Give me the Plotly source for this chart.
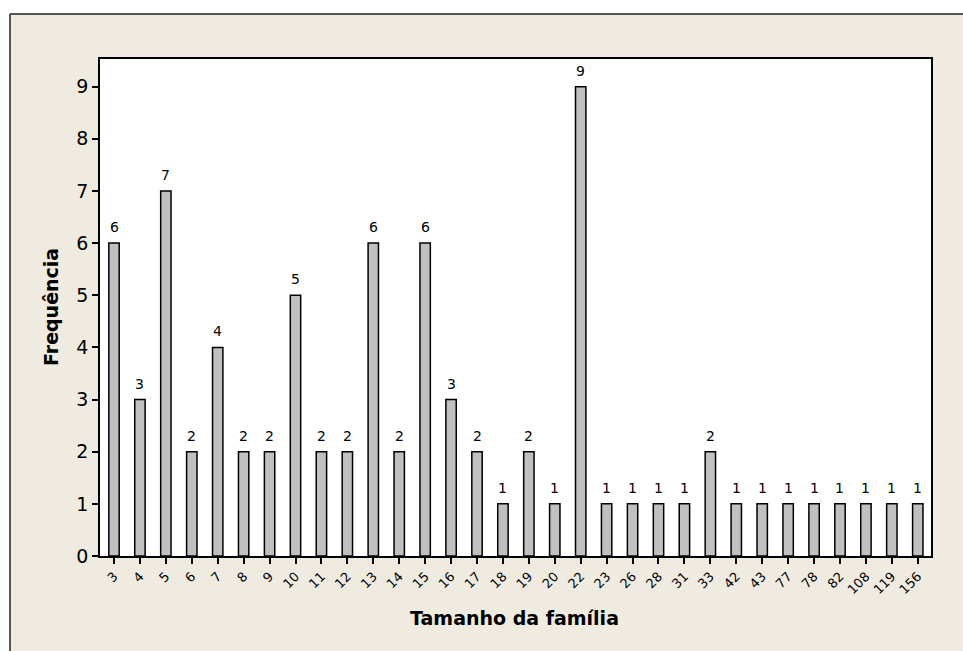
import plotly.graph_objects as go

categories = ["3", "4", "5", "6", "7", "8", "9", "10", "11", "12", "13", "14", "15", "16",
              "17", "18", "19", "20", "22", "23", "26", "28", "31", "33", "42", "43", "77",
              "78", "82", "108", "119", "156"]
frequencies = [6, 3, 7, 2, 4, 2, 2, 5, 2, 2, 6, 2, 6, 3, 2, 1, 2, 1, 9, 1, 1, 1, 1, 2,
               1, 1, 1, 1, 1, 1, 1, 1]
y_ticks = [0, 1, 2, 3, 4, 5, 6, 7, 8, 9]

FONT = "DejaVu Sans"
W, H = 963, 651
# plot area in screenshot pixels: x 100..931, y 59..556
L, R, T, B = 100, 963 - 931, 59, 651 - 556
pw, ph = W - L - R, H - T - B

def px(x):
    return (x - L) / pw

def py(y):
    return 1 - (y - T) / ph

xs = list(range(len(categories)))

fig = go.Figure()
fig.add_trace(go.Bar(
    x=xs,
    y=frequencies,
    width=0.4,
    marker=dict(color="#C0C0C0", line=dict(color="black", width=1.5)),
    hoverinfo="x+y",
))

annotations = [
    dict(x=xi, y=v, text=str(v), xref="x", yref="y", showarrow=False,
         yanchor="bottom", xanchor="center", yshift=6,
         font=dict(family=FONT, size=14, color="black"))
    for xi, v in zip(xs, frequencies)
]
annotations += [
    dict(text="<b>Tamanho da família</b>", xref="paper", yref="paper",
         x=px(514), y=py(618), showarrow=False,
         font=dict(family=FONT, size=19, color="black"),
         xanchor="center", yanchor="middle"),
    dict(text="<b>Frequência</b>", xref="paper", yref="paper",
         x=px(51), y=py(307), showarrow=False, textangle=-90,
         font=dict(family=FONT, size=19, color="black"),
         xanchor="center", yanchor="middle"),
]

fig.update_layout(
    width=W, height=H,
    margin=dict(l=L, r=R, t=T, b=B),
    paper_bgcolor="#EFEBE1",
    plot_bgcolor="white",
    showlegend=False,
    font=dict(family=FONT, color="black"),
    shapes=[
        dict(type="rect", xref="paper", yref="paper", layer="below",
             x0=px(-20), x1=px(10), y0=py(700), y1=py(-20),
             fillcolor="white", line=dict(width=0)),
        dict(type="rect", xref="paper", yref="paper", layer="below",
             x0=px(-20), x1=px(1000), y0=py(14), y1=py(-20),
             fillcolor="white", line=dict(width=0)),
        dict(type="line", xref="paper", yref="paper", layer="below",
             x0=px(10), x1=px(10), y0=py(14), y1=py(700),
             line=dict(color="#222222", width=1.5)),
        dict(type="line", xref="paper", yref="paper", layer="below",
             x0=px(10), x1=px(1000), y0=py(14), y1=py(14),
             line=dict(color="#222222", width=1.5)),
    ],
    annotations=annotations,
)

fig.update_xaxes(
    tickmode="array",
    tickvals=xs,
    ticktext=categories,
    tickangle=-45,
    range=[-0.54, len(categories) - 0.49],
    showline=True, linecolor="black", linewidth=1.5, mirror=True,
    ticks="outside", ticklen=6, tickwidth=1.5, tickcolor="black",
    tickfont=dict(family=FONT, size=13, color="black"),
    showgrid=False, zeroline=False,
)
fig.update_yaxes(
    tickmode="array",
    tickvals=y_ticks,
    ticktext=[str(v) for v in y_ticks],
    range=[0, 9.53],
    showline=True, linecolor="black", linewidth=1.5, mirror=True,
    ticks="outside", ticklen=6, tickwidth=1.5, tickcolor="black",
    tickfont=dict(family=FONT, size=19, color="black"),
    showgrid=False, zeroline=False,
)

fig.write_html(
    "out.html",
    config={"displayModeBar": False},
    post_script="document.body.style.margin='0';document.body.style.overflow='hidden';",
)
